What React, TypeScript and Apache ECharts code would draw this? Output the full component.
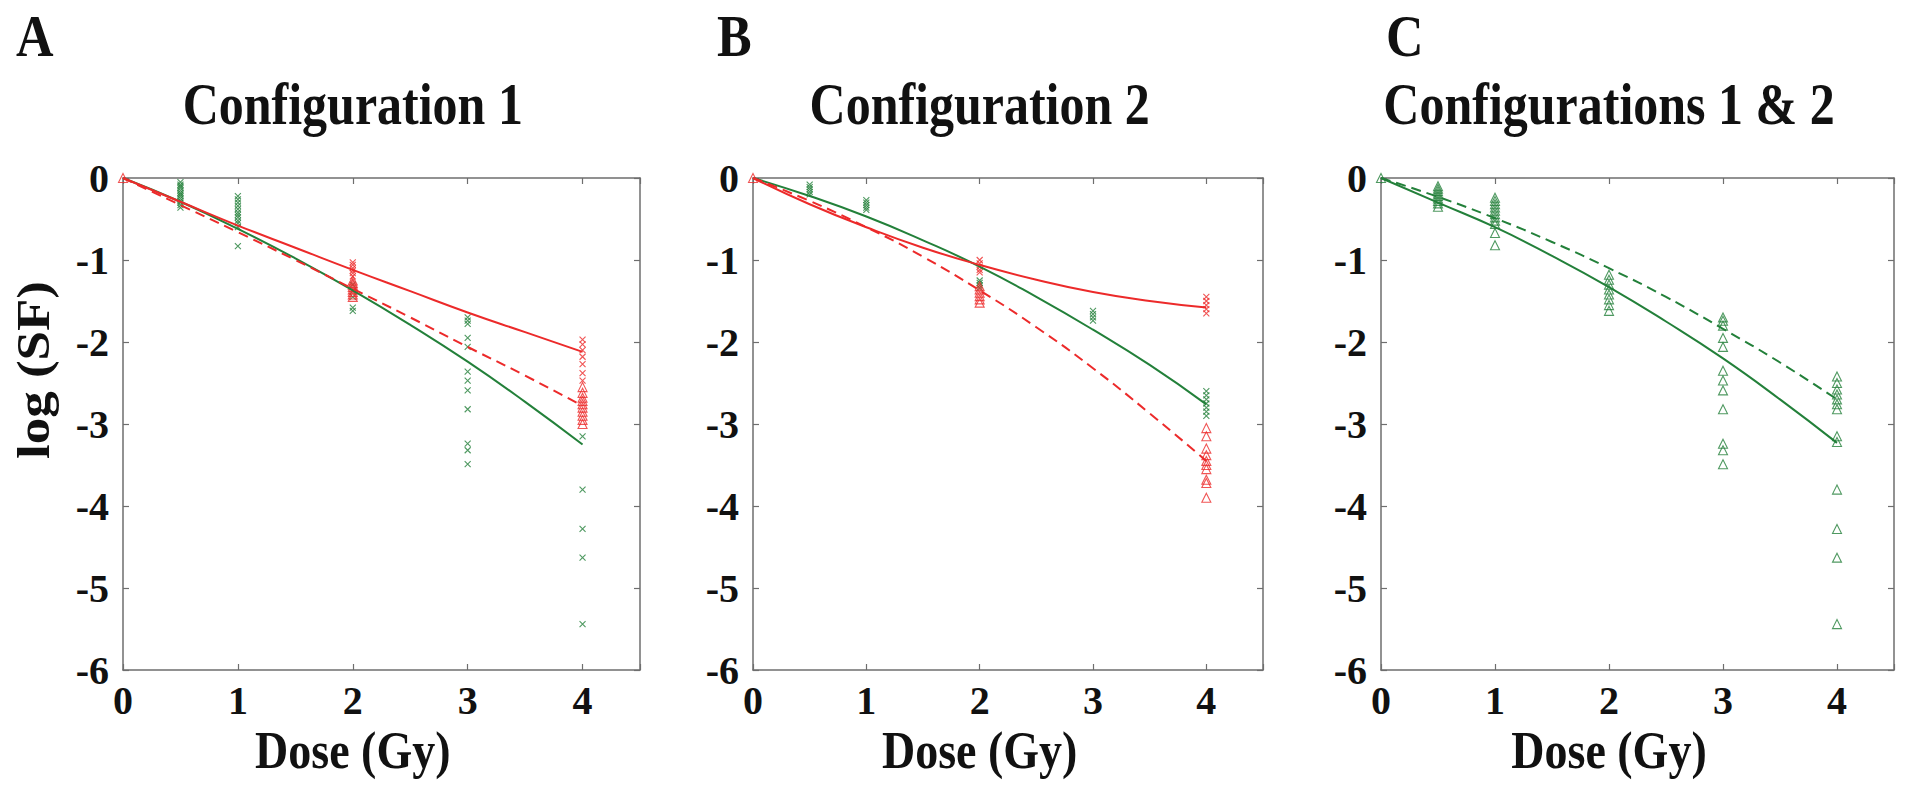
import React, { useEffect, useRef } from "react";
import * as echarts from "echarts";

// ---------- data ----------
const FIT_DOSE = [0, 0.5, 1, 1.5, 2, 2.5, 3, 3.5, 4];

// Panel A – Configuration 1
const A_GREEN_FIT = [0, -0.29, -0.62, -0.98, -1.37, -1.79, -2.24, -2.73, -3.25];
const A_RED_FIT = [0, -0.29, -0.58, -0.85, -1.12, -1.38, -1.64, -1.88, -2.12];
const A_RED_DASH = [0, -0.33, -0.66, -1.0, -1.35, -1.7, -2.06, -2.41, -2.78];

type Group = { dose: number; logSF: number[] };

const A_GREEN_CROSS: Group[] = [
  { dose: 0.5, logSF: [-0.05, -0.08, -0.1, -0.12, -0.15, -0.18, -0.2, -0.22, -0.25, -0.28, -0.3, -0.33, -0.36] },
  { dose: 1, logSF: [-0.22, -0.26, -0.3, -0.34, -0.38, -0.42, -0.45, -0.48, -0.52, -0.55, -0.6, -0.83] },
  { dose: 2, logSF: [-1.3, -1.38, -1.45, -1.58, -1.62] },
  { dose: 3, logSF: [-1.7, -1.74, -1.78, -1.95, -2.06, -2.36, -2.47, -2.59, -2.82, -3.24, -3.32, -3.49] },
  { dose: 4, logSF: [-3.15, -3.8, -4.28, -4.63, -5.44] },
];
const A_RED_CROSS: Group[] = [
  { dose: 2, logSF: [-1.03, -1.06, -1.1, -1.13, -1.16, -1.2] },
  { dose: 4, logSF: [-1.97, -2.03, -2.1, -2.18, -2.27, -2.38, -2.47] },
];
const A_RED_TRI: Group[] = [
  { dose: 0, logSF: [0] },
  { dose: 2, logSF: [-1.25, -1.28, -1.3, -1.33, -1.36, -1.39, -1.42, -1.45] },
  { dose: 4, logSF: [-2.55, -2.62, -2.68, -2.72, -2.76, -2.8, -2.85, -2.9, -2.95, -3.0] },
];

// Panel B – Configuration 2
const B_GREEN_FIT = [0, -0.22, -0.47, -0.76, -1.08, -1.45, -1.85, -2.28, -2.76];
const B_RED_FIT = [0, -0.32, -0.6, -0.85, -1.06, -1.24, -1.39, -1.5, -1.58];
const B_RED_DASH = [0, -0.28, -0.6, -0.96, -1.37, -1.82, -2.32, -2.87, -3.45];

const B_GREEN_CROSS: Group[] = [
  { dose: 0.5, logSF: [-0.08, -0.11, -0.14, -0.17, -0.2] },
  { dose: 1, logSF: [-0.27, -0.3, -0.33, -0.36, -0.39] },
  { dose: 2, logSF: [-1.25, -1.28, -1.31, -1.34] },
  { dose: 3, logSF: [-1.62, -1.66, -1.7, -1.74] },
  { dose: 4, logSF: [-2.6, -2.65, -2.7, -2.75, -2.8, -2.85, -2.9] },
];
const B_RED_CROSS: Group[] = [
  { dose: 2, logSF: [-1.0, -1.04, -1.08, -1.12, -1.15] },
  { dose: 4, logSF: [-1.45, -1.5, -1.55, -1.6, -1.65] },
];
const B_RED_TRI: Group[] = [
  { dose: 0, logSF: [0] },
  { dose: 2, logSF: [-1.32, -1.36, -1.4, -1.44, -1.48, -1.52] },
  { dose: 4, logSF: [-3.05, -3.15, -3.3, -3.38, -3.45, -3.5, -3.55, -3.68, -3.72, -3.9] },
];

// Panel C – Configurations 1 & 2
const C_GREEN_FIT = [0, -0.3, -0.6, -0.95, -1.33, -1.75, -2.2, -2.7, -3.23];
const C_GREEN_DASH = [0, -0.23, -0.49, -0.78, -1.1, -1.45, -1.84, -2.25, -2.7];

const C_GREEN_TRI: Group[] = [
  { dose: 0, logSF: [0] },
  { dose: 0.5, logSF: [-0.1, -0.13, -0.16, -0.19, -0.22, -0.25, -0.28, -0.31, -0.35] },
  { dose: 1, logSF: [-0.24, -0.28, -0.32, -0.36, -0.4, -0.44, -0.48, -0.52, -0.56, -0.67, -0.82] },
  { dose: 2, logSF: [-1.18, -1.24, -1.3, -1.36, -1.42, -1.48, -1.55, -1.62] },
  { dose: 3, logSF: [-1.7, -1.74, -1.8, -1.95, -2.06, -2.35, -2.47, -2.59, -2.82, -3.24, -3.32, -3.49] },
  { dose: 4, logSF: [-2.42, -2.5, -2.58, -2.64, -2.7, -2.76, -2.82, -3.15, -3.22, -3.8, -4.28, -4.63, -5.44] },
];

const PANEL_LETTERS = ["A", "B", "C"];
const PANEL_TITLES = ["Configuration 1", "Configuration 2", "Configurations 1 & 2"];
const X_NAME = "Dose (Gy)";
const Y_NAME = "log (SF)";

// ---------- styles ----------
const GREEN = "#23803a";
const RED = "#ec2a2a";
const AXIS = "#6e6e6e";
const SERIF = "'Liberation Serif', 'Times New Roman', serif";
const CROSS = "path://M0,0L10,10M10,0L0,10";

const GRIDS = [
  { left: 123, top: 178, width: 517, height: 492 },
  { left: 753, top: 178, width: 510, height: 492 },
  { left: 1381, top: 178, width: 513, height: 492 },
];

const toPairs = (groups: Group[]) => groups.flatMap((g) => g.logSF.map((v) => [g.dose, v]));
const fitPairs = (vals: number[]) => FIT_DOSE.map((d, i) => [d, vals[i]]);

export default function App() {
  const ref = useRef<HTMLDivElement>(null);

  useEffect(() => {
    if (!ref.current) return;
    const chart = echarts.init(ref.current, undefined, { renderer: "svg" });

    const labelStyle = { fontFamily: SERIF, fontWeight: "bold" as const, fontSize: 40, color: "#111" };
    const axisLine = { show: true, onZero: false, lineStyle: { color: AXIS, width: 1.5 } };
    const axisTick = { show: true, inside: true, length: 6, lineStyle: { color: AXIS, width: 1.2 } };

    const xAxis: any[] = [];
    const yAxis: any[] = [];
    GRIDS.forEach((_, i) => {
      xAxis.push({
        type: "value", gridIndex: i, position: "bottom", min: 0, max: 4.5, interval: 1,
        axisLine, axisTick, splitLine: { show: false },
        axisLabel: { ...labelStyle, margin: 10, showMaxLabel: true, showMinLabel: true,
          formatter: (v: number) => (Number.isInteger(v) ? String(v) : "") },
      });
      xAxis.push({
        type: "value", gridIndex: i, position: "top", min: 0, max: 4.5, interval: 1,
        axisLine, axisTick, splitLine: { show: false }, axisLabel: { show: false },
      });
      yAxis.push({
        type: "value", gridIndex: i, position: "left", min: -6, max: 0, interval: 1,
        axisLine, axisTick, splitLine: { show: false },
        axisLabel: { ...labelStyle, margin: 14, showMaxLabel: true, showMinLabel: true },
      });
      yAxis.push({
        type: "value", gridIndex: i, position: "right", min: -6, max: 0, interval: 1,
        axisLine, axisTick, splitLine: { show: false }, axisLabel: { show: false },
      });
    });

    const line = (i: number, vals: number[], color: string, dashed: boolean) => ({
      type: "line", xAxisIndex: 2 * i, yAxisIndex: 2 * i, data: fitPairs(vals),
      smooth: true, showSymbol: false, symbol: "none", z: 3,
      lineStyle: { color, width: 2, type: dashed ? [10, 6] : "solid" },
    });
    const scatter = (i: number, groups: Group[], color: string, shape: "cross" | "tri") => ({
      type: "scatter", xAxisIndex: 2 * i, yAxisIndex: 2 * i, data: toPairs(groups), z: 2,
      symbol: shape === "cross" ? CROSS : "triangle",
      symbolSize: shape === "cross" ? 6 : 9,
      itemStyle: { color: "rgba(0,0,0,0)", borderColor: color, borderWidth: 1.1 },
    });

    const series = [
      scatter(0, A_GREEN_CROSS, GREEN, "cross"),
      scatter(0, A_RED_CROSS, RED, "cross"),
      scatter(0, A_RED_TRI, RED, "tri"),
      line(0, A_GREEN_FIT, GREEN, false),
      line(0, A_RED_FIT, RED, false),
      line(0, A_RED_DASH, RED, true),
      scatter(1, B_GREEN_CROSS, GREEN, "cross"),
      scatter(1, B_RED_CROSS, RED, "cross"),
      scatter(1, B_RED_TRI, RED, "tri"),
      line(1, B_GREEN_FIT, GREEN, false),
      line(1, B_RED_FIT, RED, false),
      line(1, B_RED_DASH, RED, true),
      scatter(2, C_GREEN_TRI, GREEN, "tri"),
      line(2, C_GREEN_FIT, GREEN, false),
      line(2, C_GREEN_DASH, GREEN, true),
    ];

    const letterX = [16, 717, 1386];
    const graphic: any[] = [];
    GRIDS.forEach((g, i) => {
      const cx = g.left + (g.width / 4.5) * 2;
      graphic.push({
        type: "text", x: letterX[i], y: 6, scaleY: 1.15,
        style: { text: PANEL_LETTERS[i], fontFamily: SERIF, fontWeight: "bold", fontSize: 52, fill: "#111", align: "left", verticalAlign: "top" },
      });
      graphic.push({
        type: "text", x: cx, y: 74, scaleY: 1.2,
        style: { text: PANEL_TITLES[i], fontFamily: SERIF, fontWeight: "bold", fontSize: 50, fill: "#111", align: "center", verticalAlign: "top" },
      });
      graphic.push({
        type: "text", x: cx, y: 724, scaleY: 1.15,
        style: { text: X_NAME, fontFamily: SERIF, fontWeight: "bold", fontSize: 46, fill: "#111", align: "center", verticalAlign: "top" },
      });
    });
    graphic.push({
      type: "text", x: 34, y: 370, rotation: Math.PI / 2, scaleX: 1.15,
      style: { text: Y_NAME, fontFamily: SERIF, fontWeight: "bold", fontSize: 46, fill: "#111", align: "center", verticalAlign: "middle" },
    });

    chart.setOption({
      animation: false,
      backgroundColor: "#ffffff",
      grid: GRIDS.map((g) => ({ ...g, containLabel: false })),
      xAxis,
      yAxis,
      series,
      graphic,
    });

    return () => chart.dispose();
  }, []);

  return (
    <div
      ref={ref}
      style={{ position: "fixed", left: 0, top: 0, width: "1907px", height: "802px", background: "#fff" }}
    />
  );
}
